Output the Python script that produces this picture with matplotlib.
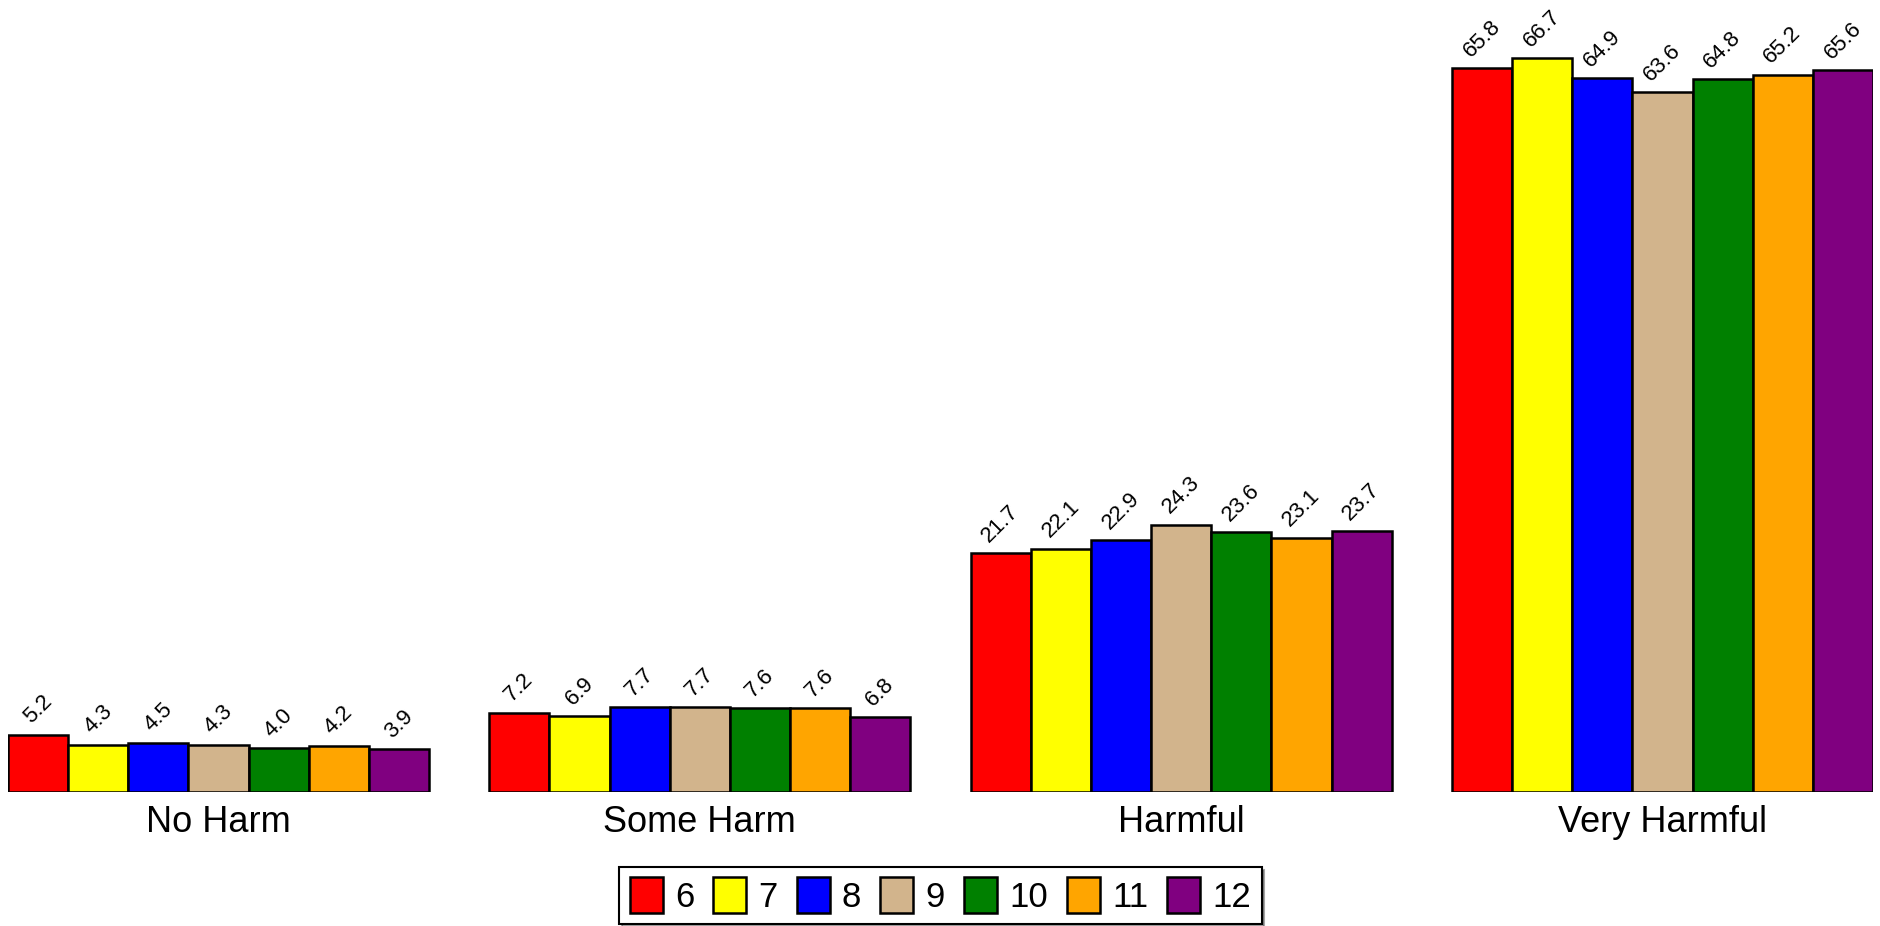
import matplotlib
matplotlib.use("Agg")
import matplotlib.pyplot as plt
import numpy as np

plt.rcParams['font.family'] = ['Liberation Sans', 'DejaVu Sans']

categories = ["No Harm", "Some Harm", "Harmful", "Very Harmful"]
grades = ["6", "7", "8", "9", "10", "11", "12"]
colors = ["red", "yellow", "blue", "tan", "green", "orange", "purple"]

# percent per grade, one list per grade across the four categories
g6 = [5.2, 7.2, 21.7, 65.8]
g7 = [4.3, 6.9, 22.1, 66.7]
g8 = [4.5, 7.7, 22.9, 64.9]
g9 = [4.3, 7.7, 24.3, 63.6]
g10 = [4.0, 7.6, 23.6, 64.8]
g11 = [4.2, 7.6, 23.1, 65.2]
g12 = [3.9, 6.8, 23.7, 65.6]
series = [g6, g7, g8, g9, g10, g11, g12]

W, H = 1881, 926
fig = plt.figure(figsize=(W / 100, H / 100), dpi=100)
ax = fig.add_axes([8 / W, 134 / H, 1865 / W, 770 / H])

x = np.arange(len(categories))
bw = 1 / 8
for i, (vals, col, lab) in enumerate(zip(series, colors, grades)):
    pos = x + (i - 3) * bw
    bars = ax.bar(pos, vals, width=bw, color=col, edgecolor='black',
                  linewidth=1.8, label=lab)
    for b, v in zip(bars, vals):
        ax.annotate(f"{v:.1f}", (b.get_x() + b.get_width() / 2, v),
                    xytext=(0, 5), textcoords='offset points',
                    ha='center', va='bottom', rotation=45, fontsize=16,
                    annotation_clip=False)

ax.set_xlim(-0.4375, 3.4375)
ax.set_ylim(0, 70)
ax.set_xticks(x)
ax.set_xticklabels(categories, fontsize=26)
ax.tick_params(axis='x', length=0, pad=9)
ax.set_yticks([])
for s in ax.spines.values():
    s.set_visible(False)

leg = fig.legend(loc='lower center', bbox_to_anchor=(0.5, 0.002), ncol=7,
                 fontsize=25, frameon=True, fancybox=False, shadow=True,
                 handlelength=0.95, handleheight=1.2, handletextpad=0.35,
                 columnspacing=0.55, borderpad=0.3, borderaxespad=0.0)
leg.get_frame().set_edgecolor('black')
leg.get_frame().set_linewidth(1.5)

fig.savefig("out.png", dpi=100)
